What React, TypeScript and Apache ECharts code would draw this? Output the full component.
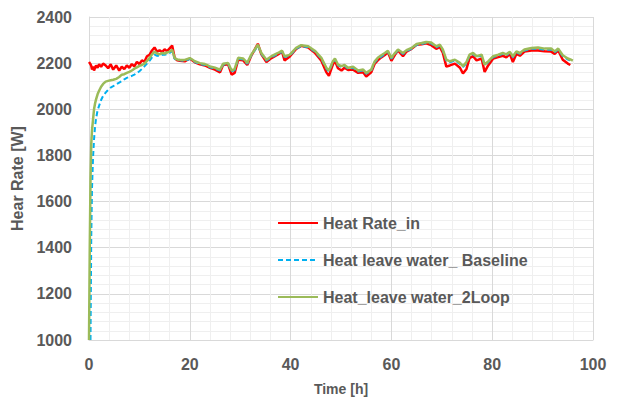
import React, { useEffect, useRef } from "react";
import * as echarts from "echarts";

const timeHours = [
  0, 0.15, 0.3, 0.45, 0.6, 0.8, 1.0, 1.2, 1.4, 1.7, 2.0, 2.4, 2.8, 3.3, 3.8, 4.3, 4.8, 5.4, 6.0, 6.5,
  7.0, 7.5, 8.0, 8.5, 9.0, 9.5, 10.0, 10.5, 11.0, 11.5, 12.0, 12.5, 13.0, 13.5, 14.0, 14.5, 15.0, 15.5,
  16.0, 16.5, 17.0, 17.5, 18, 19, 20, 21, 22, 23, 24, 25, 26, 26.6, 27.6, 28.3, 28.9, 29.6, 30.6, 31.4,
  32.2, 32.9, 33.5, 34.2, 35.2, 36.2, 37.5, 38.3, 38.8, 39.8, 41.1, 42.1, 43.5, 44.8, 46.1, 47.1, 47.6,
  48.4, 48.8, 49.4, 50.1, 50.7, 51.4, 52.4, 53.4, 54.4, 55.0, 56.0, 56.7, 57.3, 58.0, 58.7, 59.3, 60.0,
  60.7, 61.3, 62.3, 63.0, 64.0, 65.0, 66.0, 66.9, 67.9, 68.9, 69.6, 70.2, 70.9, 71.6, 72.6, 73.6, 74.2,
  74.9, 75.5, 76.2, 76.9, 77.9, 78.5, 79.2, 80.2, 81.2, 82.1, 82.8, 83.5, 84.1, 84.8, 85.5, 86.4, 87.8,
  89.1, 90.4, 91.7, 92.4, 93.1, 94.0, 95.0, 95.5, 96.0,
];

const heatRateIn = [
  2205, 2200, 2195, 2188, 2172, 2185, 2168, 2180, 2190, 2180, 2195, 2184, 2198, 2190, 2178, 2195, 2172, 2190, 2168, 2185,
  2174, 2190, 2180, 2196, 2186, 2205, 2196, 2212, 2206, 2230, 2236, 2255, 2268, 2250, 2256, 2248, 2260, 2252,
  2264, 2276, 2222, 2212, 2210, 2208, 2220, 2204, 2195, 2190, 2180, 2172, 2160, 2192, 2195, 2150, 2158, 2215, 2212, 2192,
  2232, 2260, 2284, 2238, 2205, 2222, 2238, 2250, 2212, 2228, 2262, 2275, 2268, 2245, 2210, 2160, 2145,
  2195, 2210, 2178, 2168, 2180, 2170, 2172, 2158, 2160, 2142, 2160, 2198, 2212, 2225, 2235, 2248, 2210,
  2236, 2255, 2230, 2250, 2262, 2280, 2282, 2286, 2278, 2262, 2270, 2245, 2185, 2190, 2198, 2180, 2155,
  2175, 2222, 2230, 2212, 2220, 2162, 2190, 2220, 2226, 2232, 2225, 2240, 2205, 2240, 2232, 2250, 2255,
  2255, 2252, 2250, 2240, 2255, 2215, 2198, 2192, null,
];

const leaveBaseline = [
  null, null, 1000, 1450, 1660, 1790, 1870, 1925, 1960, 1995, 2015, 2040, 2058, 2072, 2085, 2094, 2100, 2108, 2116, 2122,
  2130, 2136, 2140, 2145, 2150, 2157, 2165, 2175, 2186, 2198, 2210, 2225, 2237, 2232, 2230, 2236, 2236, 2240,
  2244, 2252, 2218, 2212, 2212, 2210, 2218, 2205, 2196, 2192, 2182, 2176, 2168, 2193, 2197, 2164, 2170, 2219, 2216, 2197,
  2233, 2255, 2276, 2240, 2211, 2226, 2240, 2250, 2226, 2232, 2262, 2274, 2269, 2250, 2219, 2176, 2164,
  2204, 2216, 2190, 2183, 2188, 2176, 2180, 2164, 2168, 2154, 2168, 2204, 2219, 2228, 2240, 2250, 2219,
  2240, 2255, 2240, 2252, 2262, 2279, 2283, 2288, 2285, 2269, 2276, 2255, 2211, 2204, 2211, 2197, 2183,
  2200, 2233, 2240, 2226, 2233, 2190, 2204, 2226, 2233, 2240, 2234, 2245, 2226, 2247, 2240, 2255, 2262,
  2262, 2258, 2258, 2247, 2258, 2230, 2216, 2212, 2208,
];

const leave2Loop = [
  1000, 1400, 1700, 1850, 1910, 1955, 2000, 2025, 2043, 2065, 2080, 2098, 2110, 2120, 2123, 2126, 2128, 2132, 2140, 2150,
  2152, 2158, 2162, 2168, 2176, 2182, 2188, 2192, 2198, 2210, 2222, 2238, 2250, 2242, 2238, 2244, 2242, 2246,
  2250, 2258, 2222, 2216, 2215, 2214, 2222, 2208, 2200, 2196, 2186, 2180, 2172, 2197, 2201, 2168, 2175, 2223, 2220, 2201,
  2237, 2259, 2280, 2244, 2215, 2230, 2244, 2254, 2230, 2236, 2266, 2278, 2273, 2254, 2223, 2180, 2168,
  2208, 2220, 2194, 2187, 2192, 2180, 2184, 2168, 2172, 2158, 2172, 2208, 2223, 2234, 2244, 2254, 2223,
  2244, 2259, 2244, 2256, 2266, 2283, 2287, 2292, 2289, 2273, 2280, 2259, 2215, 2208, 2215, 2201, 2187,
  2205, 2237, 2244, 2230, 2237, 2194, 2208, 2230, 2237, 2244, 2238, 2249, 2230, 2251, 2244, 2259, 2266,
  2268, 2263, 2263, 2251, 2263, 2234, 2220, 2216, 2211,
];

const seriesNames = ["Heat Rate_in", "Heat leave water_ Baseline", "Heat_leave water_2Loop"];

const pairs = (vals: (number | null)[]) => timeHours.map((t, i) => [t, vals[i]]);

export default function App() {
  const ref = useRef<HTMLDivElement>(null);
  useEffect(() => {
    if (!ref.current) return;
    const chart = echarts.init(ref.current, null, { renderer: "svg" });
    const font = "'Liberation Sans', Arial, sans-serif";
    chart.setOption({
      animation: false,
      backgroundColor: "#ffffff",
      grid: { left: 89, right: 28, top: 17, bottom: 59, containLabel: false },
      legend: {
        orient: "vertical",
        left: 277,
        top: 215,
        padding: 0,
        itemWidth: 40,
        itemHeight: 16,
        itemGap: 21,
        data: seriesNames,
        itemStyle: { opacity: 0 },
        textStyle: { fontFamily: font, fontSize: 16, fontWeight: "bold", color: "#595959", lineHeight: 16 },
      },
      xAxis: {
        type: "value",
        min: 0,
        max: 100,
        interval: 20,
        name: "Time [h]",
        nameLocation: "middle",
        nameGap: 42,
        nameTextStyle: { fontFamily: font, fontSize: 14, fontWeight: "bold", color: "#595959" },
        axisLine: { show: true, lineStyle: { color: "#D9D9D9", width: 1 } },
        axisTick: { show: false },
        axisLabel: { fontFamily: font, fontSize: 16, fontWeight: "bold", color: "#595959", margin: 16 },
        splitLine: { show: true, lineStyle: { color: "#D9D9D9", width: 1 } },
        minorTick: { show: false, splitNumber: 5 },
        minorSplitLine: { show: true, lineStyle: { color: "#EFEFEF", width: 1 } },
      },
      yAxis: {
        type: "value",
        min: 1000,
        max: 2400,
        interval: 200,
        name: "Hear Rate [W]",
        nameLocation: "middle",
        nameGap: 51,
        nameRotate: 90,
        nameTextStyle: { fontFamily: font, fontSize: 16, fontWeight: "bold", color: "#595959" },
        axisLine: { show: true, lineStyle: { color: "#D9D9D9", width: 1 } },
        axisTick: { show: false },
        axisLabel: {
          fontFamily: font,
          fontSize: 16,
          fontWeight: "bold",
          color: "#595959",
          margin: 17,
          formatter: (v: number) => String(v),
        },
        splitLine: { show: true, lineStyle: { color: "#D9D9D9", width: 1 } },
        minorTick: { show: false, splitNumber: 5 },
        minorSplitLine: { show: true, lineStyle: { color: "#EFEFEF", width: 1 } },
      },
      series: [
        {
          name: seriesNames[0],
          type: "line",
          data: pairs(heatRateIn),
          symbol: "none",
          showSymbol: false,
          color: "#FF0000",
          lineStyle: { color: "#FF0000", width: 2.5 },
        },
        {
          name: seriesNames[1],
          type: "line",
          data: pairs(leaveBaseline),
          symbol: "none",
          showSymbol: false,
          color: "#00B0F0",
          lineStyle: { color: "#00B0F0", width: 2, type: [5, 3] },
        },
        {
          name: seriesNames[2],
          type: "line",
          data: pairs(leave2Loop),
          symbol: "none",
          showSymbol: false,
          color: "#9BBB59",
          lineStyle: { color: "#9BBB59", width: 2.5 },
        },
      ],
    });
    return () => chart.dispose();
  }, []);
  return (
    <div
      ref={ref}
      style={{ position: "fixed", left: 0, top: 0, width: 621, height: 401, background: "#fff" }}
    />
  );
}
